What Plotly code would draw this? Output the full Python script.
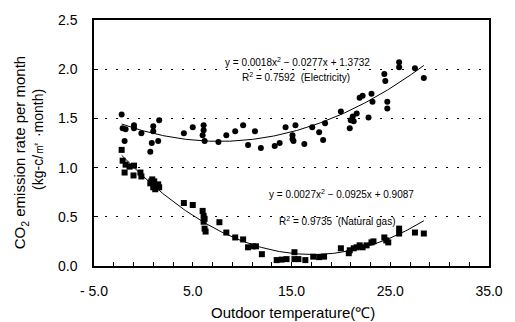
import numpy as np
import plotly.graph_objects as go

# Electricity (circles)
elec_x = [-2.2, -2.1, -1.8, -1.9, -0.95, -0.95, -0.2, 0.7, 0.85, 1.0, 1.0, 1.5, 1.6,
          4.1, 5.0, 6.1, 6.1, 6.0, 6.2, 7.6, 8.4, 9.3, 10.1, 10.6, 11.3, 11.9,
          13.3, 13.8, 14.4, 15.1, 15.1, 15.2, 15.4, 16.3, 17.1, 17.8, 18.2, 18.4,
          20.0, 20.9, 21.0, 21.2, 21.3, 21.6, 21.9, 22.2, 22.8, 23.1, 23.2,
          24.4, 24.5, 24.7, 24.7, 25.9, 25.9, 27.5, 28.4]
elec_y = [1.54, 1.40, 1.39, 1.27, 1.43, 1.40, 1.35, 1.16, 1.25, 1.42, 1.37, 1.27, 1.48,
          1.35, 1.41, 1.43, 1.38, 1.33, 1.27, 1.26, 1.33, 1.37, 1.43, 1.23, 1.37, 1.20,
          1.22, 1.25, 1.41, 1.33, 1.29, 1.27, 1.43, 1.24, 1.41, 1.36, 1.28, 1.45,
          1.57, 1.40, 1.48, 1.52, 1.47, 1.55, 1.71, 1.73, 1.51, 1.75, 1.67,
          1.95, 1.88, 1.67, 1.60, 2.07, 2.02, 2.01, 1.91]

# Natural gas (squares)
gas_x = [-2.2, -2.1, -1.8, -1.4, -0.95, -1.9, -1.0, -0.3, -0.2,
         0.7, 0.9, 1.0, 1.1, 1.3, 1.5, 1.2, 1.6, 0.8,
         4.1, 5.0, 6.0, 6.1, 6.2, 6.1, 6.2, 6.3, 7.7, 8.4, 9.3, 10.1, 10.6, 11.1,
         11.4, 12.0, 13.5, 14.0, 14.5, 15.3, 15.3, 15.7, 16.4, 17.2, 17.8, 18.3,
         20.0, 20.8, 20.9, 21.3, 21.6, 21.9, 22.2, 22.6, 23.1, 23.3,
         24.4, 24.6, 24.8, 25.9, 25.9, 27.5, 28.4]
gas_y = [1.18, 1.07, 1.03, 1.01, 1.02, 0.95, 0.92, 0.95, 0.91,
         0.84, 0.88, 0.80, 0.86, 0.82, 0.83, 0.78, 0.80, 0.86,
         0.64, 0.62, 0.56, 0.51, 0.48, 0.45, 0.38, 0.35, 0.445, 0.34, 0.29, 0.27, 0.19, 0.20,
         0.20, 0.12, 0.06, 0.065, 0.07, 0.14, 0.07, 0.07, 0.06, 0.095, 0.09, 0.095,
         0.18, 0.13, 0.16, 0.18, 0.19, 0.21, 0.19, 0.21, 0.24, 0.25,
         0.29, 0.26, 0.24, 0.38, 0.33, 0.34, 0.33]

# Trendline coefficients (as printed on the chart)
elec_coef = [0.0018, -0.0277, 1.3732]
gas_coef = [0.0027, -0.0925, 0.9087]
fit_range = [-2.2, 28.4]

x_ticks = [-5, 5, 15, 25, 35]
x_ticktext = ["- 5.0", "5.0", "15.0", "25.0", "35.0"]
y_ticks = [0, 0.5, 1.0, 1.5, 2.0, 2.5]
y_ticktext = ["0.0", "0.5", "1.0", "1.5", "2.0", "2.5"]

xf = np.linspace(fit_range[0], fit_range[1], 200)

W, H = 515, 322
ML, MR, MT, MB = 94, 16, 17, 56
PW, PH = W - ML - MR, H - MT - MB


def px(x):
    return (x - ML) / PW


def py(y):
    return (H - MB - y) / PH


fig = go.Figure()
fig.add_trace(go.Scatter(x=xf, y=np.polyval(elec_coef, xf), mode="lines",
                         line=dict(color="black", width=1), hoverinfo="skip"))
fig.add_trace(go.Scatter(x=xf, y=np.polyval(gas_coef, xf), mode="lines",
                         line=dict(color="black", width=1), hoverinfo="skip"))
fig.add_trace(go.Scatter(x=elec_x, y=elec_y, mode="markers",
                         marker=dict(symbol="circle", size=6, color="black")))
fig.add_trace(go.Scatter(x=gas_x, y=gas_y, mode="markers",
                         marker=dict(symbol="square", size=6, color="black")))

font = "Liberation Sans, Arial, sans-serif"
fig.update_layout(
    width=W, height=H,
    margin=dict(l=ML, r=MR, t=MT, b=MB),
    paper_bgcolor="white", plot_bgcolor="white",
    showlegend=False,
    font=dict(family=font, size=14, color="black"),
    xaxis=dict(range=[-5, 35], tickvals=x_ticks, ticktext=x_ticktext,
               showgrid=False, zeroline=False, showline=True, linecolor="black",
               linewidth=1.5, mirror=True, ticks="inside", ticklen=0,
               minor=dict(tick0=-5, dtick=2, ticks="inside", ticklen=4,
                          tickcolor="black", showgrid=False),
               ticklabelstandoff=11, tickfont=dict(size=14)),
    yaxis=dict(range=[0, 2.5], tickvals=y_ticks, ticktext=y_ticktext,
               showgrid=True, gridcolor="black", griddash="2px,9px", gridwidth=1,
               zeroline=False, showline=True, linecolor="black", linewidth=1.5,
               mirror=True, ticks="inside", ticklen=4, tickcolor="black",
               ticklabelstandoff=12, tickfont=dict(size=14)),
)

ann = [
    dict(x=303, y=60, text="y = 0.0018x<sup>2</sup> − 0.0277x + 1.3732", size=10),
    dict(x=301, y=75, text="R<sup>2</sup> = 0.7592  (Electricity)", size=10),
    dict(x=348, y=193, text="y = 0.0027x<sup>2</sup> − 0.0925x + 0.9087", size=10),
    dict(x=343, y=220, text="R<sup>2</sup> = 0.9735  (Natural gas)", size=10),
    dict(x=298, y=313, text="Outdoor temperature(℃)", size=15),
]
for a in ann:
    fig.add_annotation(x=px(a["x"]), y=py(a["y"]), xref="paper", yref="paper",
                       text=a["text"], showarrow=False, xanchor="center", yanchor="middle",
                       font=dict(size=a["size"], family=font, color="black"))

# y-axis title (two lines with different centres)
fig.add_annotation(x=px(19), y=py(151), xref="paper", yref="paper",
                   text="CO<sub>2</sub> emission rate per month", textangle=-90,
                   showarrow=False, xanchor="center", yanchor="middle",
                   font=dict(size=15, family=font, color="black"))
fig.add_annotation(x=px(36), y=py(138), xref="paper", yref="paper",
                   text="(kg-c/㎡ ·month)", textangle=-90,
                   showarrow=False, xanchor="center", yanchor="middle",
                   font=dict(size=14, family=font, color="black"))

fig.write_html("out.html")
